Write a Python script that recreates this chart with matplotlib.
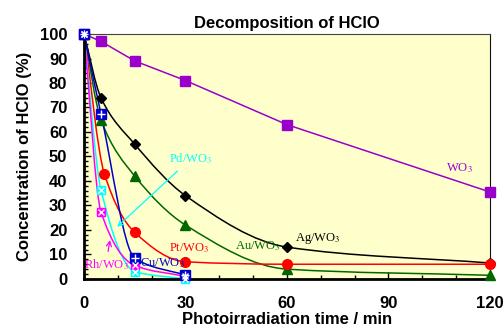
import matplotlib.pyplot as plt
import numpy as np
from matplotlib.path import Path
from matplotlib.patches import PathPatch
from matplotlib.ticker import MultipleLocator

plt.rcParams['font.family'] = 'Liberation Sans'
plt.rcParams['mathtext.fontset'] = 'stix'

# time points (min)
t_long = [0, 5, 15, 30, 60, 120]
t_pt = [0, 6, 15, 30, 60, 120]
t_short = [0, 5, 15, 30]
wo3 = [100, 97, 89, 81, 63, 35.5]
ag = [100, 74, 55, 34, 13, 6.5]
au = [100, 65, 42, 22, 4, 1.5]
pt = [100, 43, 19, 7, 6, 6]
cu = [100, 67.5, 8.5, 1.5]
pd_ = [100, 36.5, 3, 0]
rh = [100, 27.5, 5.5, 1]


def smooth_path(x, y):
    # monotone cubic bezier through the measured points
    x = np.asarray(x, float)
    y = np.asarray(y, float)
    h = np.diff(x)
    d = np.diff(y) / h
    m = np.zeros_like(y)
    m[0], m[-1] = d[0], d[-1]
    for i in range(1, len(y) - 1):
        if d[i - 1] * d[i] <= 0:
            m[i] = 0
        else:
            w1 = 2 * h[i] + h[i - 1]
            w2 = h[i] + 2 * h[i - 1]
            m[i] = (w1 + w2) / (w1 / d[i - 1] + w2 / d[i])
    verts = [(x[0], y[0])]
    codes = [Path.MOVETO]
    for i in range(len(x) - 1):
        verts += [(x[i] + h[i] / 3, y[i] + m[i] * h[i] / 3),
                  (x[i + 1] - h[i] / 3, y[i + 1] - m[i + 1] * h[i] / 3),
                  (x[i + 1], y[i + 1])]
        codes += [Path.CURVE4] * 3
    return Path(verts, codes)


def series(ax, x, y, color, marker, ms, inner=None, smooth=True):
    if smooth:
        ax.add_patch(PathPatch(smooth_path(x, y), fill=False, ec=color, lw=1.1, zorder=2))
    else:
        ax.plot(x, y, color=color, lw=1.1, zorder=2)
    ax.plot(x, y, ls='none', color=color, marker=marker, ms=ms, clip_on=False, zorder=3)
    if inner:
        ax.plot(x, y, ls='none', marker=inner, ms=ms - 1.5, mec='white', mew=1,
                clip_on=False, zorder=4)


fig = plt.figure(figsize=(5.03, 3.27), dpi=100)
ax = fig.add_axes([0.167, 0.147, 0.807, 0.749])
ax.set_facecolor('#ffffcc')

series(ax, t_long, wo3, '#9900cc', 's', 7, smooth=False)
series(ax, t_long, ag, 'black', 'D', 5)
series(ax, t_long, au, '#006600', '^', 7)
series(ax, t_pt, pt, 'red', 'o', 7)
series(ax, t_short, pd_, 'cyan', 's', 6, inner='x')
series(ax, t_short, rh, 'magenta', 's', 6, inner='x')
series(ax, t_short, cu, '#0000cc', 's', 7, inner='+')

lab = dict(family='Liberation Serif', fontsize=9)
ax.text(111, 44, 'WO$_3$', color='#9900cc', ha='center', **lab)
ax.text(69, 15.5, 'Ag/WO$_3$', color='black', ha='center', **lab)
ax.text(51.5, 12, 'Au/WO$_3$', color='#006600', ha='center', **lab)
ax.text(31, 11.5, 'Pt/WO$_3$', color='red', ha='center', **lab)
ax.text(16.5, 5, 'Cu/WO$_3$', color='#0000cc', ha='left', **lab)
ax.annotate('Pd/WO$_3$', xy=(9.2, 20.5), xytext=(31.5, 47.5), color='cyan', ha='center',
            arrowprops=dict(arrowstyle='->', color='cyan', lw=0.9), **lab)
ax.annotate('Rh/WO$_3$', xy=(7.8, 17), xytext=(6.5, 4.5), color='magenta', ha='center',
            arrowprops=dict(arrowstyle='->', color='magenta', lw=0.9), **lab)

ax.set_xlim(0, 120)
ax.set_ylim(0, 100)
ax.xaxis.set_major_locator(MultipleLocator(30))
ax.xaxis.set_minor_locator(MultipleLocator(10))
ax.yaxis.set_major_locator(MultipleLocator(10))
ax.yaxis.set_minor_locator(MultipleLocator(2))
ax.tick_params(which='both', direction='in', top=False, right=False, width=1)
ax.tick_params(which='major', length=5, labelsize=12)
ax.tick_params(which='minor', length=3)
for lbl in ax.get_xticklabels() + ax.get_yticklabels():
    lbl.set_fontweight('bold')
ax.tick_params(axis='x', pad=12)
ax.tick_params(axis='y', pad=12)

ax.spines['left'].set_linewidth(2)
ax.spines['bottom'].set_linewidth(2)
ax.spines['top'].set_color('#444444')
ax.spines['right'].set_color('#111111')

ax.set_title('Decomposition of HClO', fontsize=12, fontweight='bold', pad=4)
ax.set_xlabel('Photoirradiation time / min', fontsize=12, fontweight='bold', labelpad=1)
ax.set_ylabel('Concentration of HClO (%)', fontsize=12, fontweight='bold', labelpad=6)

fig.savefig('out.png', dpi=100)
